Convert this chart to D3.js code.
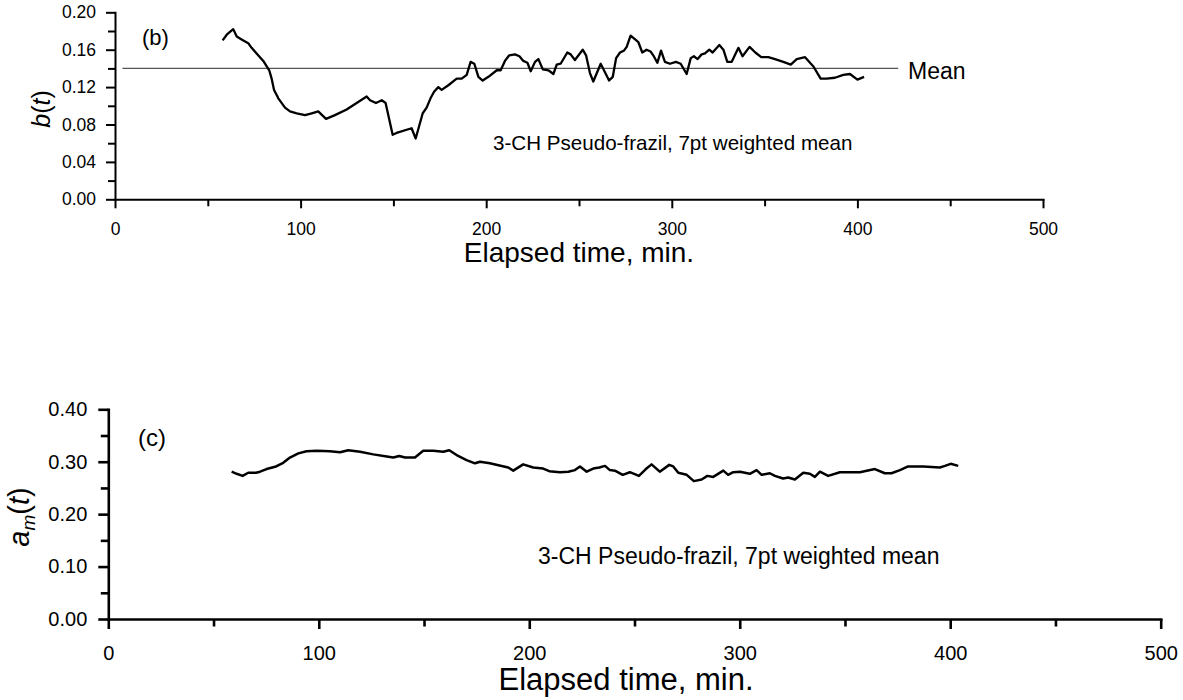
<!DOCTYPE html>
<html>
<head>
<meta charset="utf-8">
<script src="https://cdn.jsdelivr.net/npm/d3@7"></script>
<style>
  body { margin: 0; background: #fff; }
  svg { display: block; font-family: "Liberation Sans", Arial, sans-serif; }
</style>
</head>
<body>
<div id="chart"></div>
<script>
// panel (b): b(t) vs elapsed time
const bTime = [58.0, 60.2, 63.7, 65.6, 68.2, 71.8, 73.6, 76.3, 79.9, 83.1, 84.4, 85.7, 88.0, 91.6, 94.3, 97.9,
  102.4, 106.0, 109.5, 113.7, 118.5, 124.8, 130.2, 135.6, 137.4, 140.6, 143.7, 145.8, 149.6, 151.7, 159.8, 162.0,
  165.8, 167.9, 170.0, 171.9, 174.2, 176.0, 179.6, 184.1, 186.8, 189.5, 191.6, 193.6, 195.8, 198.1, 201.2, 205.7,
  207.8, 210.1, 212.4, 215.5, 217.9, 220.0, 222.2, 224.0, 226.3, 228.1, 230.5, 233.5, 236.2, 238.0, 240.1, 243.7,
  245.5, 247.8, 252.0, 253.8, 255.9, 257.7, 261.7, 266.2, 268.2, 270.0, 272.1, 274.2, 275.7, 277.8, 282.0, 284.1,
  286.4, 288.6, 290.0, 292.2, 294.2, 296.3, 299.0, 302.2, 304.8, 308.0, 310.2, 311.9, 313.9, 316.1, 317.9, 320.2,
  322.0, 325.6, 327.8, 329.9, 332.3, 335.9, 338.1, 341.9, 345.0, 348.2, 352.0, 355.6, 360.1, 364.1, 367.3, 371.8,
  376.3, 380.2, 383.4, 387.9, 392.4, 396.0, 400.0, 403.6];
const bValue = [0.170, 0.176, 0.182, 0.174, 0.171, 0.167, 0.162, 0.156, 0.148, 0.138, 0.129, 0.117, 0.108, 0.098, 0.094, 0.092,
  0.090, 0.092, 0.094, 0.086, 0.090, 0.096, 0.103, 0.110, 0.106, 0.103, 0.106, 0.103, 0.069, 0.071, 0.076, 0.065,
  0.092, 0.098, 0.108, 0.115, 0.120, 0.117, 0.122, 0.129, 0.129, 0.133, 0.147, 0.145, 0.131, 0.127, 0.131, 0.138,
  0.138, 0.148, 0.154, 0.155, 0.153, 0.148, 0.146, 0.137, 0.147, 0.150, 0.139, 0.138, 0.134, 0.144, 0.145, 0.157,
  0.155, 0.149, 0.160, 0.154, 0.135, 0.126, 0.145, 0.127, 0.131, 0.151, 0.157, 0.159, 0.163, 0.175, 0.168, 0.157,
  0.160, 0.158, 0.154, 0.146, 0.159, 0.147, 0.145, 0.147, 0.145, 0.134, 0.151, 0.153, 0.150, 0.155, 0.156, 0.160,
  0.157, 0.165, 0.160, 0.147, 0.147, 0.162, 0.153, 0.163, 0.157, 0.152, 0.152, 0.150, 0.147, 0.144, 0.150, 0.152,
  0.142, 0.129, 0.129, 0.130, 0.133, 0.134, 0.128, 0.131];
const bMean = 0.14;
const bMeanSpan = [4, 422];

// panel (c): a_m(t) vs elapsed time
const aTime = [58.6, 61.0, 63.8, 66.5, 70.2, 72.1, 75.2, 79.7, 83.1, 86.3, 90.3, 94.2, 99.0, 105.3, 110.1, 114.0,
  119.6, 125.9, 132.3, 135.4, 138.2, 141.0, 145.7, 149.6, 154.4, 159.1, 162.0, 166.2, 170.2, 174.2, 176.6, 181.3,
  186.9, 190.0, 192.4, 197.1, 201.9, 206.6, 209.5, 214.6, 218.5, 221.7, 224.1, 227.3, 230.4, 233.3, 236.0, 238.3,
  240.7, 244.4, 247.8, 252.1, 255.4, 258.1, 262.0, 266.5, 268.4, 270.8, 274.8, 278.2, 281.9, 284.6, 287.4, 292.2,
  294.5, 296.9, 300.1, 304.8, 308.0, 310.4, 314.3, 316.7, 320.6, 323.0, 326.2, 330.2, 333.3, 335.7, 338.1, 342.0,
  347.6, 357.1, 364.2, 368.9, 372.1, 376.1, 380.0, 387.2, 395.1, 397.5, 400.2, 403.8];
const aValue = [0.281, 0.277, 0.273, 0.279, 0.279, 0.281, 0.286, 0.291, 0.298, 0.308, 0.316, 0.320, 0.321, 0.320, 0.318, 0.322,
  0.319, 0.314, 0.310, 0.308, 0.311, 0.308, 0.308, 0.321, 0.321, 0.319, 0.322, 0.311, 0.303, 0.297, 0.300, 0.297,
  0.292, 0.289, 0.283, 0.295, 0.289, 0.287, 0.282, 0.280, 0.281, 0.284, 0.291, 0.281, 0.287, 0.289, 0.292, 0.284,
  0.283, 0.275, 0.280, 0.273, 0.286, 0.295, 0.281, 0.294, 0.291, 0.279, 0.275, 0.263, 0.266, 0.273, 0.271, 0.283,
  0.275, 0.280, 0.281, 0.277, 0.284, 0.275, 0.278, 0.273, 0.268, 0.270, 0.266, 0.279, 0.277, 0.271, 0.281, 0.273,
  0.280, 0.280, 0.286, 0.278, 0.278, 0.284, 0.291, 0.291, 0.289, 0.292, 0.296, 0.292];

const xMajor = [0, 100, 200, 300, 400, 500];
const xMinor = [50, 150, 250, 350, 450];
const bMajor = [0, 0.04, 0.08, 0.12, 0.16, 0.20];
const bMinor = [0.02, 0.06, 0.10, 0.14, 0.18];
const aMajor = [0, 0.1, 0.2, 0.3, 0.4];
const aMinor = [0.05, 0.15, 0.25, 0.35];
const note = "3-CH Pseudo-frazil, 7pt weighted mean";

const width = 1183, height = 700;
const svg = d3.select("#chart").append("svg")
  .attr("width", width)
  .attr("height", height);

function panel(opt) {
  const x = d3.scaleLinear().domain([0, 500]).range(opt.xr);
  const y = d3.scaleLinear().domain(opt.yd).range(opt.yr);
  const g = svg.append("g");

  // minor ticks first, then the major ones with labels
  g.append("g")
    .attr("transform", `translate(0,${opt.yr[0]})`)
    .call(d3.axisBottom(x).tickValues(xMinor).tickSize(opt.minor).tickFormat(""))
    .call(a => a.select(".domain").remove());
  g.append("g")
    .attr("transform", `translate(${opt.xr[0]},0)`)
    .call(d3.axisLeft(y).tickValues(opt.yMinor).tickSize(opt.minor).tickFormat(""))
    .call(a => a.select(".domain").remove());

  const xa = g.append("g")
    .attr("transform", `translate(0,${opt.yr[0]})`)
    .call(d3.axisBottom(x).tickValues(xMajor).tickSize(opt.major).tickSizeOuter(0).tickFormat(d3.format("d")));
  xa.selectAll("text").attr("y", opt.xLabY).attr("dy", null).attr("font-size", opt.tickFont).attr("fill", "#000");

  const ya = g.append("g")
    .attr("transform", `translate(${opt.xr[0]},0)`)
    .call(d3.axisLeft(y).tickValues(opt.yMajor).tickSize(opt.major).tickSizeOuter(0)
      .tickPadding(opt.yPad).tickFormat(d3.format(".2f")));
  ya.selectAll("text").attr("font-size", opt.tickFont).attr("fill", "#000");

  g.selectAll(".domain, .tick line").attr("stroke", "#000").attr("stroke-width", opt.axisW);
  g.selectAll(".domain").attr("stroke-linecap", "square");

  return { g, x, y };
}

// ---- panel (b)
const pb = panel({
  xr: [115, 1043], yd: [0, 0.2], yr: [199.3, 12.3],
  yMajor: bMajor, yMinor: bMinor, major: 9, minor: 7, axisW: 2,
  tickFont: 17.5, xLabY: 35.5, yPad: 10
});

pb.g.append("line")
  .attr("x1", pb.x(bMeanSpan[0])).attr("x2", pb.x(bMeanSpan[1]))
  .attr("y1", pb.y(bMean)).attr("y2", pb.y(bMean))
  .attr("stroke", "#555").attr("stroke-width", 1.3);

pb.g.append("path")
  .datum(d3.zip(bTime, bValue))
  .attr("fill", "none")
  .attr("stroke", "#000")
  .attr("stroke-width", 2.3)
  .attr("stroke-linejoin", "round")
  .attr("d", d3.line().x(d => pb.x(d[0])).y(d => pb.y(d[1])));

pb.g.append("text").attr("x", 908).attr("y", 79).attr("font-size", 23).text("Mean");
pb.g.append("text").attr("x", 142).attr("y", 45).attr("font-size", 22).text("(b)");
pb.g.append("text").attr("x", 493).attr("y", 150).attr("font-size", 20.6).text(note);
pb.g.append("text").attr("x", 579).attr("y", 262).attr("font-size", 28)
  .attr("text-anchor", "middle").text("Elapsed time, min.");
pb.g.append("text")
  .attr("transform", "translate(50,109) rotate(-90)")
  .attr("text-anchor", "middle").attr("font-size", 25)
  .call(t => {
    t.append("tspan").attr("font-style", "italic").text("b");
    t.append("tspan").text("(");
    t.append("tspan").attr("font-style", "italic").text("t");
    t.append("tspan").text(")");
  });

// ---- panel (c)
const pc = panel({
  xr: [108.3, 1160.7], yd: [0, 0.4], yr: [619, 409.3],
  yMajor: aMajor, yMinor: aMinor, major: 10, minor: 7.5, axisW: 2.6,
  tickFont: 20, xLabY: 41, yPad: 11
});

pc.g.append("path")
  .datum(d3.zip(aTime, aValue))
  .attr("fill", "none")
  .attr("stroke", "#000")
  .attr("stroke-width", 2.5)
  .attr("stroke-linejoin", "round")
  .attr("d", d3.line().x(d => pc.x(d[0])).y(d => pc.y(d[1])));

pc.g.append("text").attr("x", 138).attr("y", 446).attr("font-size", 24).text("(c)");
pc.g.append("text").attr("x", 538).attr("y", 564).attr("font-size", 23).text(note);
pc.g.append("text").attr("x", 626).attr("y", 690).attr("font-size", 31)
  .attr("text-anchor", "middle").text("Elapsed time, min.");
pc.g.append("text")
  .attr("transform", "translate(29,517) rotate(-90)")
  .attr("text-anchor", "middle").attr("font-size", 29)
  .call(t => {
    t.append("tspan").attr("font-style", "italic").text("a");
    t.append("tspan").attr("font-style", "italic").attr("font-size", 19).attr("dy", 6).text("m");
    t.append("tspan").attr("dy", -6).text("(");
    t.append("tspan").attr("font-style", "italic").text("t");
    t.append("tspan").text(")");
  });
</script>
</body>
</html>
